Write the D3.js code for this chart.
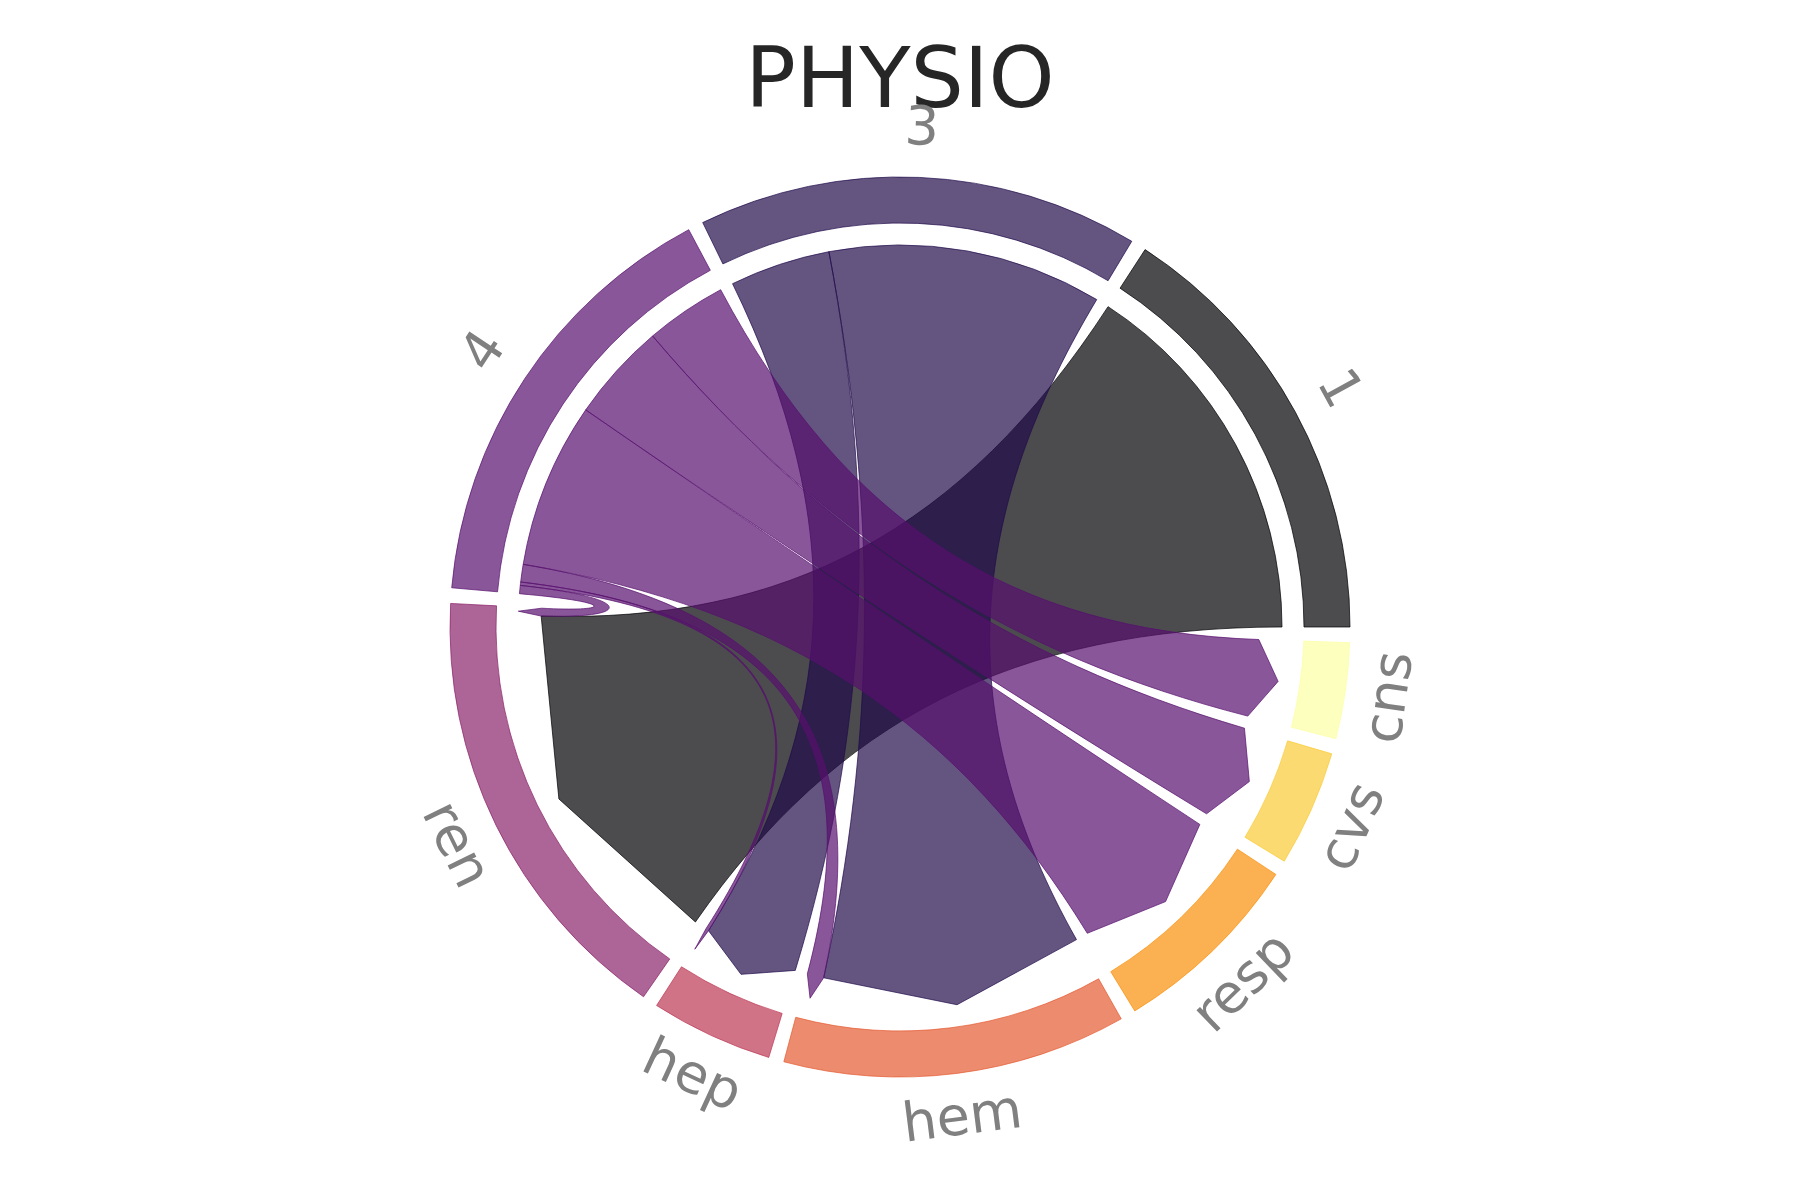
<!DOCTYPE html>
<html>
<head>
<meta charset="utf-8">
<script src="https://cdn.jsdelivr.net/npm/d3@7"></script>
<style>
  html, body { margin: 0; padding: 0; background: #ffffff; }
  svg { display: block; }
</style>
</head>
<body>
<svg id="chart" width="1800" height="1200"></svg>
<script>
// ---------------- data ----------------
const title = "PHYSIO";
const nodeNames = ["1", "3", "4", "ren", "hep", "hem", "resp", "cvs", "cns"];
const linkSource = ["1", "3", "3", "4", "4", "4", "4", "4", "4"];
const linkTarget = ["ren", "hep", "hem", "ren", "hep", "hem", "resp", "cvs", "cns"];
const linkValue  = [1.000, 0.268, 0.732, 0.022, 0.009, 0.047, 0.442, 0.263, 0.217];

// ---------------- layout ----------------
const W = 1800, H = 1200;
const cx = 900, cy = 627;
const rOut = 450, rIn = 404, rChord = 382, rArrow = 359, rLabel = 497;
const padDeg = 2;
const chordWidth = 0.7;
const labelSize = 54;

const svg = d3.select("#chart");
const n = nodeNames.length;
const idx = new Map(nodeNames.map((d, i) => [d, i]));

const color = d3.scaleOrdinal()
  .domain(nodeNames)
  .range(nodeNames.map((d, i) => d3.interpolateInferno(i / (n - 1))));

// node size = in + out
const size = nodeNames.map(name => {
  let s = 0;
  linkValue.forEach((v, k) => {
    if (linkSource[k] === name) s += v;
    if (linkTarget[k] === name) s += v;
  });
  return s;
});
const grand = d3.sum(size);
const deg = d3.scaleLinear().domain([0, grand]).range([0, 360 - n * padDeg]);

const nodeStart = [], nodeEnd = [];
let acc = 0;
nodeNames.forEach((d, i) => {
  nodeStart.push(acc);
  acc += deg(size[i]);
  nodeEnd.push(acc);
  acc += padDeg;
});

// positions of link ends inside arcs
const srcPos = new Array(linkValue.length), tgtPos = new Array(linkValue.length);
nodeNames.forEach((name, i) => {
  let cur = nodeStart[i];
  const outs = linkValue.map((v, k) => k).filter(k => linkSource[k] === name)
    .sort((a, b) => idx.get(linkTarget[b]) - idx.get(linkTarget[a]));
  outs.forEach(k => { const w = deg(linkValue[k]); srcPos[k] = [cur, cur + w]; cur += w; });
  const ins = linkValue.map((v, k) => k).filter(k => linkTarget[k] === name)
    .sort((a, b) => idx.get(linkSource[b]) - idx.get(linkSource[a]));
  ins.forEach(k => { const w = deg(linkValue[k]); tgtPos[k] = [cur, cur + w]; cur += w; });
});

const rad = a => a * Math.PI / 180;
const P = (r, a) => [cx + r * Math.cos(rad(a)), cy - r * Math.sin(rad(a))];
const angDist = (a, b) => { let d = Math.abs(a - b) % 360; return d > 180 ? 360 - d : d; };
const ctrlR = (a, b) => {
  const f = Math.min(1, 0.3 + 0.03 * angDist(a, b));
  return rChord * (1 - chordWidth * f);
};

// ---------------- title ----------------
svg.append("text")
  .attr("x", cx).attr("y", 107)
  .attr("text-anchor", "middle")
  .attr("font-family", "DejaVu Sans, sans-serif")
  .attr("font-size", 84)
  .attr("fill", "#262626")
  .text(title);

// ---------------- rings ----------------
const gRing = svg.append("g");
nodeNames.forEach((name, i) => {
  const p = d3.path();
  const a0 = rad(nodeStart[i]), a1 = rad(nodeEnd[i]);
  const s = P(rOut, nodeStart[i]);
  p.moveTo(s[0], s[1]);
  p.arc(cx, cy, rOut, -a0, -a1, true);
  const e = P(rIn, nodeEnd[i]);
  p.lineTo(e[0], e[1]);
  p.arc(cx, cy, rIn, -a1, -a0, false);
  p.closePath();
  gRing.append("path")
    .attr("d", p.toString())
    .attr("fill", color(name)).attr("fill-opacity", 0.7)
    .attr("stroke", color(name)).attr("stroke-opacity", 0.7)
    .attr("stroke-width", 1);
});

// ---------------- chords ----------------
const gChord = svg.append("g");
const order = linkValue.map((v, k) => k)
  .sort((a, b) => idx.get(linkSource[a]) - idx.get(linkSource[b]));
order.forEach(k => {
  const [a1, a2] = srcPos[k];
  const [b1, b2] = tgtPos[k];
  const bm = (b1 + b2) / 2;
  const p = d3.path();
  const s = P(rChord, a1);
  p.moveTo(s[0], s[1]);
  p.arc(cx, cy, rChord, -rad(a1), -rad(a2), true);
  const rc1 = ctrlR(a2, b1);
  const c1 = P(rc1, a2), c2 = P(rc1, b1), e1 = P(rArrow, b1);
  p.bezierCurveTo(c1[0], c1[1], c2[0], c2[1], e1[0], e1[1]);
  const tip = P(rChord, bm);
  p.lineTo(tip[0], tip[1]);
  const e2 = P(rArrow, b2);
  p.lineTo(e2[0], e2[1]);
  const rc2 = ctrlR(b2, a1);
  const c3 = P(rc2, b2), c4 = P(rc2, a1);
  p.bezierCurveTo(c3[0], c3[1], c4[0], c4[1], s[0], s[1]);
  p.closePath();
  const col = color(linkSource[k]);
  gChord.append("path")
    .attr("d", p.toString())
    .attr("fill", col).attr("fill-opacity", 0.7)
    .attr("stroke", col).attr("stroke-opacity", 0.7)
    .attr("stroke-width", 1);
});

// ---------------- labels ----------------
const gLab = svg.append("g");
nodeNames.forEach((name, i) => {
  const m = (nodeStart[i] + nodeEnd[i]) / 2;
  const rot = (m >= -30 && m <= 180) ? m - 90 : m - 270;
  const [x, y] = P(rLabel, m);
  gLab.append("text")
    .attr("transform", `translate(${x},${y}) rotate(${-rot})`)
    .attr("x", 0).attr("y", 0.262 * labelSize)
    .attr("text-anchor", "middle")
    .attr("font-family", "DejaVu Sans, sans-serif")
    .attr("font-size", labelSize)
    .attr("fill", "#808080")
    .text(name);
});
</script>
</body>
</html>
